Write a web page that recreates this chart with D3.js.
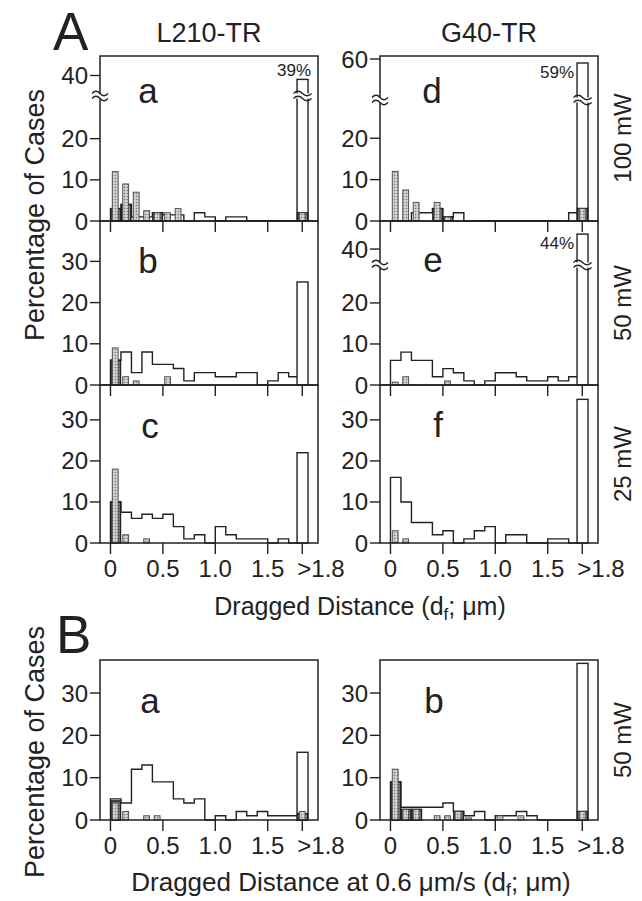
<!DOCTYPE html>
<html>
<head>
<meta charset="utf-8">
<script src="https://cdn.jsdelivr.net/npm/d3@7"></script>
<style>
  body { margin: 0; background: #fff; }
  svg { display: block; }
</style>
</head>
<body>
<div id="chart"></div>
<script>
// ---------- data (percentage of cases per 0.1 um bin) ----------
const binStarts = [0, 0.1, 0.2, 0.3, 0.4, 0.5, 0.6, 0.7, 0.8, 0.9, 1.0, 1.1, 1.2, 1.3, 1.4, 1.5, 1.6, 1.7];
const xTickValues = [0, 0.5, 1.0, 1.5];
const xTickLabels = ["0", "0.5", "1.0", "1.5", ">1.8"];

// A: L210-TR (a, b, c) / G40-TR (d, e, f)
const aOpen    = [3, 4, 1, 1, 2, 1.5, 1.5, 0, 2, 1, 0, 1, 1, 0, 0, 0, 0, 0];
const aStipple = [12, 9, 7, 2.5, 2, 2, 3, 0, 0, 0, 0, 0, 0, 0, 0, 0, 0, 0];
const aDark    = [3, 4, 0, 0, 2, 0, 0, 0, 0, 0, 0, 0, 0, 0, 0, 0, 0, 0];

const bOpen    = [6, 8, 3, 8, 5, 5, 4, 1, 3, 3, 2, 2, 3, 3, 0, 1, 3, 2];
const bStipple = [9, 2, 1, 0, 0, 2, 0, 0, 0, 0, 0, 0, 0, 0, 0, 0, 0, 0];
const bDark    = [6, 0, 0, 0, 0, 0, 0, 0, 0, 0, 0, 0, 0, 0, 0, 0, 0, 0];

const cOpen    = [10, 7.5, 6, 7, 6, 7, 4, 1, 2, 0, 4, 2, 1, 1, 1, 0, 1, 0];
const cStipple = [18, 2, 0, 1, 0, 0, 0, 0, 0, 0, 0, 0, 0, 0, 0, 0, 0, 0];
const cDark    = [10, 0, 0, 0, 0, 0, 0, 0, 0, 0, 0, 0, 0, 0, 0, 0, 0, 0];

const dOpen    = [0, 0, 2, 2, 3, 1, 2, 0, 0, 0, 0, 0, 0, 0, 0, 0, 0, 2];
const dStipple = [12, 7.5, 4.5, 0, 4.5, 1, 0, 0, 0, 0, 0, 0, 0, 0, 0, 0, 0, 0];
const dDark    = [0, 0, 0, 0, 3, 1, 0, 0, 0, 0, 0, 0, 0, 0, 0, 0, 0, 0];

const eOpen    = [6, 8, 6, 6, 2, 4, 3, 1, 0, 1, 3, 3, 2, 1, 1, 2, 1, 2];
const eStipple = [0.7, 2, 0, 0, 0, 1, 0, 0, 0, 0, 0, 0, 0, 0, 0, 0, 0, 0];
const eDark    = [0, 0, 0, 0, 0, 0, 0, 0, 0, 0, 0, 0, 0, 0, 0, 0, 0, 0];

const fOpen    = [16, 10, 5, 5, 2, 3, 0, 1, 3, 4, 0, 2, 2, 0, 0, 1, 1, 0];
const fStipple = [3, 1, 0, 0, 0, 0, 0, 0, 0, 0, 0, 0, 0, 0, 0, 0, 0, 0];
const fDark    = [0, 0, 0, 0, 0, 0, 0, 0, 0, 0, 0, 0, 0, 0, 0, 0, 0, 0];

// B: at 0.6 um/s, 50 mW
const baOpen    = [5, 4, 12, 13, 9, 9, 5, 4, 5, 0, 1, 0, 2, 1, 2, 1, 1, 1];
const baStipple = [4, 2, 0, 1, 1, 0, 0, 0, 0, 0, 0, 0, 0, 0, 0, 0, 0, 0];
const baDark    = [4.5, 0, 0, 0, 0, 0, 0, 0, 0, 0, 0, 0, 0, 0, 0, 0, 0, 0];

const bbOpen    = [9, 3, 3, 3, 3, 4, 2, 1, 2, 0, 1, 1, 2, 1, 0, 0, 0, 0];
const bbStipple = [12, 2.5, 2.5, 0, 1, 1, 2, 0.5, 0, 0, 1, 0, 1, 0, 0, 0, 0, 0];
const bbDark    = [9, 2.5, 2.5, 0, 0, 0, 2, 0, 0, 0, 0, 0, 0, 0, 0, 0, 0, 0];

// ">1.8" column, panel order a, b, c, d, e, f, Ba, Bb
const overOpen    = [39, 25, 22, 59, 44, 35, 16, 37];
const overStipple = [2, 0, 0, 3, 0, 0, 2, 2];
const overDark    = [2, 0, 0, 3, 0, 0, 1.5, 2];
const pctLabels   = ["39%", "", "", "59%", "44%", "", "", ""];

const ticks30 = [0, 10, 20, 30];
const ticksBrk40 = [0, 10, 20, 40];
const ticksBrk60 = [0, 10, 20, 60];

(function() {
    const width = 642, height = 901;
    const ink = "#222";
    const font = "'Liberation Sans', Arial, Helvetica, sans-serif";

    const svg = d3.select("#chart").append("svg")
        .attr("width", width).attr("height", height)
        .style("font-family", font);

    // stipple fills
    const defs = svg.append("defs");
    function dots(id, bg, fg, r) {
        const p = defs.append("pattern").attr("id", id)
            .attr("width", 3).attr("height", 3).attr("patternUnits", "userSpaceOnUse");
        p.append("rect").attr("width", 3).attr("height", 3).attr("fill", bg);
        p.append("circle").attr("cx", 1.5).attr("cy", 1.5).attr("r", r).attr("fill", fg);
    }
    dots("lightDots", "#d2d2d2", "#777", 0.8);
    dots("darkDots", "#a8a8a8", "#444", 0.85);

    const cols = [{ x0: 100, x1: 318 }, { x0: 380, x1: 598 }];

    const panels = [
        { col: 0, domain: [0, 30, 35, 45], range: [221, 97.5, 95, 56], brk: 96, ticks: ticksBrk40,
          open: aOpen, stip: aStipple, dark: aDark, letter: "a", lx: 148, ly: 103, pct: "above" },
        { col: 0, domain: [0, 39.8], range: [385, 221], ticks: ticks30,
          open: bOpen, stip: bStipple, dark: bDark, letter: "b", lx: 148, ly: 273 },
        { col: 0, domain: [0, 38.5], range: [543, 385], ticks: ticks30, xLabels: true,
          open: cOpen, stip: cStipple, dark: cDark, letter: "c", lx: 150, ly: 438 },
        { col: 1, domain: [0, 29, 50, 60.75], range: [221, 101, 99, 56], brk: 100, ticks: ticksBrk60,
          open: dOpen, stip: dStipple, dark: dDark, letter: "d", lx: 432, ly: 103, pct: "left" },
        { col: 1, domain: [0, 29, 36, 47.5], range: [385, 266, 264, 221], brk: 265, ticks: ticksBrk40,
          open: eOpen, stip: eStipple, dark: eDark, letter: "e", lx: 433, ly: 272, pct: "left" },
        { col: 1, domain: [0, 38.5], range: [543, 385], ticks: ticks30, xLabels: true,
          open: fOpen, stip: fStipple, dark: fDark, letter: "f", lx: 438, ly: 437 },
        { col: 0, domain: [0, 37.8], range: [820, 660], ticks: ticks30, xLabels: true,
          open: baOpen, stip: baStipple, dark: baDark, letter: "a", lx: 150, ly: 713 },
        { col: 1, domain: [0, 37.8], range: [820, 660], ticks: ticks30, xLabels: true,
          open: bbOpen, stip: bbStipple, dark: bbDark, letter: "b", lx: 434, ly: 713 }
    ];

    const overPos = 1.83;   // where the ">1.8" column sits on the x axis

    function tilde(g, cx, cy, w) {
        const h = w / 2;
        g.append("path")
            .attr("d", `M${cx - h},${cy} c${h * 0.3},-3 ${h * 0.7},-3 ${h},0 s${h * 0.7},3 ${h},0`)
            .attr("fill", "none").attr("stroke", ink).attr("stroke-width", 1.3);
    }
    function breakMark(g, cx, cy, w) {
        g.append("rect").attr("x", cx - w / 2).attr("y", cy - 2.5)
            .attr("width", w).attr("height", 5).attr("fill", "#fff");
        tilde(g, cx, cy - 2.5, w);
        tilde(g, cx, cy + 2.5, w);
    }

    panels.forEach((p, pi) => {
        const c = cols[p.col];
        const x = d3.scaleLinear().domain([-0.1, 1.98]).range([c.x0, c.x1]);
        const y = d3.scaleLinear().domain(p.domain).range(p.range);
        const y0 = y(0), yTop = p.range[p.range.length - 1];
        const g = svg.append("g");

        // open histogram as a step outline
        const pts = [[0, 0]]
            .concat(binStarts.map((b, i) => [b, p.open[i]]))
            .concat([[1.8, p.open[p.open.length - 1]], [1.8, 0]]);
        g.append("path")
            .attr("d", d3.line().x(d => x(d[0])).y(d => y(d[1])).curve(d3.curveStepAfter)(pts))
            .attr("fill", "none").attr("stroke", ink).attr("stroke-width", 1.4);

        // ">1.8" open bar
        g.append("rect")
            .attr("x", x(overPos - 0.05)).attr("y", y(overOpen[pi]))
            .attr("width", x(overPos + 0.055) - x(overPos - 0.05))
            .attr("height", y0 - y(overOpen[pi]))
            .attr("fill", "#fff").attr("stroke", ink).attr("stroke-width", 1.4);

        // dark bars (full bin)
        const darkData = binStarts.map((b, i) => ({ x0: b + 0.005, x1: b + 0.095, v: p.dark[i] }))
            .concat([{ x0: overPos - 0.045, x1: overPos + 0.05, v: overDark[pi] }])
            .filter(d => d.v > 0);
        g.selectAll(".dark").data(darkData).join("rect")
            .attr("class", "dark")
            .attr("x", d => x(d.x0)).attr("width", d => x(d.x1) - x(d.x0))
            .attr("y", d => y(d.v)).attr("height", d => y0 - y(d.v))
            .attr("fill", "url(#darkDots)").attr("stroke", ink).attr("stroke-width", 1.6);

        // stippled narrow bars
        const stipData = binStarts.map((b, i) => ({ xc: b + 0.045, v: p.stip[i] }))
            .concat([{ xc: overPos, v: overStipple[pi] }])
            .filter(d => d.v > 0);
        g.selectAll(".stip").data(stipData).join("rect")
            .attr("class", "stip")
            .attr("x", d => x(d.xc - 0.028)).attr("width", d => x(d.xc + 0.028) - x(d.xc - 0.028))
            .attr("y", d => y(d.v)).attr("height", d => y0 - y(d.v))
            .attr("fill", "url(#lightDots)").attr("stroke", "#444").attr("stroke-width", 0.9);

        // frame
        g.append("rect")
            .attr("x", c.x0).attr("y", yTop)
            .attr("width", c.x1 - c.x0).attr("height", y0 - yTop)
            .attr("fill", "none").attr("stroke", ink).attr("stroke-width", 1.5);

        // y ticks
        p.ticks.forEach(t => {
            g.append("line").attr("x1", c.x0 - 10).attr("x2", c.x0)
                .attr("y1", y(t)).attr("y2", y(t))
                .attr("stroke", ink).attr("stroke-width", 1.4);
            g.append("text").attr("x", c.x0 - 12).attr("y", y(t) + 8.5)
                .attr("text-anchor", "end").attr("font-size", 24).attr("fill", ink)
                .text(t);
        });

        // x ticks; the ">1.8" label starts at its tick like in the original
        xTickValues.concat([overPos]).forEach((t, i) => {
            g.append("line").attr("x1", x(t)).attr("x2", x(t))
                .attr("y1", y0).attr("y2", y0 + 11)
                .attr("stroke", ink).attr("stroke-width", 1.4);
            if (p.xLabels) {
                const last = i === xTickValues.length;
                g.append("text").attr("x", last ? x(t) - 5 : x(t)).attr("y", y0 + 34)
                    .attr("text-anchor", last ? "start" : "middle")
                    .attr("font-size", 24).attr("fill", ink)
                    .text(xTickLabels[i]);
            }
        });

        // axis break marks
        if (p.brk) {
            breakMark(g, c.x0, p.brk, 16);
            breakMark(g, x(overPos + 0.0025), p.brk, 18);
        }

        // percentage for the clipped column
        if (pctLabels[pi]) {
            const yb = y(overOpen[pi]);
            if (p.pct === "above") {
                g.append("text").attr("x", x(overPos + 0.055) + 3).attr("y", yb - 3)
                    .attr("text-anchor", "end").attr("font-size", 17).attr("fill", ink)
                    .text(pctLabels[pi]);
            } else {
                g.append("text").attr("x", x(overPos - 0.05) - 3).attr("y", yb + 15)
                    .attr("text-anchor", "end").attr("font-size", 17).attr("fill", ink)
                    .text(pctLabels[pi]);
            }
        }

        // panel letter
        g.append("text").attr("x", p.lx).attr("y", p.ly)
            .attr("text-anchor", "middle").attr("font-size", 35).attr("fill", ink)
            .text(p.letter);
    });

    /********************************************
     * LABELS
     ********************************************/
    const txt = (x, y, s, size, anchor) => svg.append("text")
        .attr("x", x).attr("y", y).attr("font-size", size)
        .attr("text-anchor", anchor || "middle").attr("fill", ink).text(s);

    txt(53, 50, "A", 53, "start");
    txt(56, 653, "B", 53, "start");
    txt(209, 42, "L210-TR", 27);
    txt(489, 42, "G40-TR", 27);

    const rot = (x, y, s, size) => svg.append("text")
        .attr("transform", `translate(${x},${y}) rotate(-90)`)
        .attr("font-size", size).attr("text-anchor", "middle").attr("fill", ink).text(s);

    rot(44, 215, "Percentage of Cases", 27);
    rot(44, 752, "Percentage of Cases", 27);
    rot(631, 138, "100 mW", 24);
    rot(631, 303, "50 mW", 24);
    rot(631, 464, "25 mW", 24);
    rot(631, 740, "50 mW", 24);

    function distTitle(x, y, lead, size) {
        const t = svg.append("text").attr("x", x).attr("y", y)
            .attr("font-size", size).attr("text-anchor", "middle").attr("fill", ink);
        t.append("tspan").text(lead + "(d");
        t.append("tspan").attr("font-size", size * 0.68).attr("dy", 5).text("f");
        t.append("tspan").attr("dy", -5).text("; \u03bcm)");
    }
    distTitle(360, 615, "Dragged Distance ", 25);
    distTitle(351, 891, "Dragged Distance at 0.6 \u03bcm/s ", 26);
})();
</script>
</body>
</html>
